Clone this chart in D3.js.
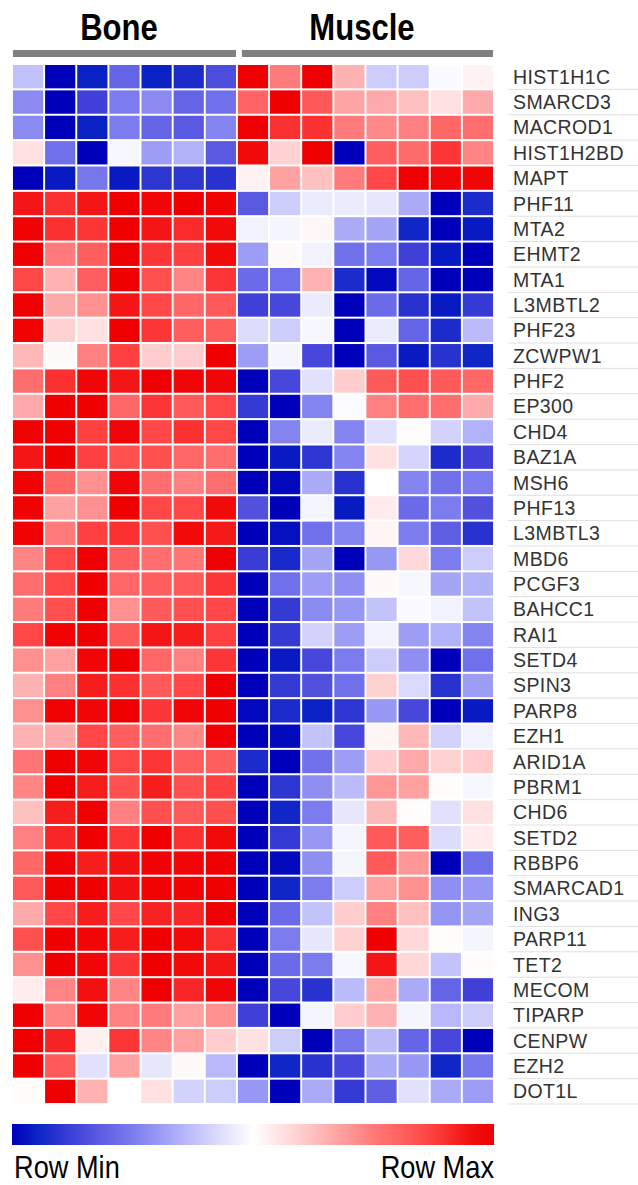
<!DOCTYPE html>
<html>
<head>
<meta charset="utf-8">
<script src="https://cdn.jsdelivr.net/npm/d3@7"></script>
<style>
  body { margin: 0; background: #fff; }
  svg { display: block; }
</style>
</head>
<body>
<svg id="chart" width="638" height="1185"></svg>
<script>
// genes (rows), top to bottom
const genes = ['HIST1H1C', 'SMARCD3', 'MACROD1', 'HIST1H2BD', 'MAPT', 'PHF11', 'MTA2', 'EHMT2',
  'MTA1', 'L3MBTL2', 'PHF23', 'ZCWPW1', 'PHF2', 'EP300', 'CHD4', 'BAZ1A', 'MSH6', 'PHF13',
  'L3MBTL3', 'MBD6', 'PCGF3', 'BAHCC1', 'RAI1', 'SETD4', 'SPIN3', 'PARP8', 'EZH1', 'ARID1A',
  'PBRM1', 'CHD6', 'SETD2', 'RBBP6', 'SMARCAD1', 'ING3', 'PARP11', 'TET2', 'MECOM', 'TIPARP',
  'CENPW', 'EZH2', 'DOT1L'];

const groups = ['Bone', 'Muscle'];
const boneSamples = ['B1', 'B2', 'B3', 'B4', 'B5', 'B6', 'B7'];
const muscleSamples = ['M1', 'M2', 'M3', 'M4', 'M5', 'M6', 'M7', 'M8'];
const legendLabels = ['Row Min', 'Row Max'];

// row-scaled values, -1 = row min, 1 = row max
const boneValues = [
  [-0.25, -1, -0.9, -0.6, -0.9, -0.85, -0.7],
  [-0.45, -1, -0.75, -0.5, -0.45, -0.6, -0.55],
  [-0.45, -1, -0.9, -0.5, -0.6, -0.65, -0.47],
  [0.12, -0.55, -1, -0.03, -0.38, -0.3, -0.65],
  [-1, -0.92, -0.52, -0.92, -0.8, -0.8, -0.82],
  [0.88, 0.8, 0.88, 0.95, 0.93, 0.95, 0.94],
  [0.94, 0.8, 0.78, 0.95, 0.88, 0.82, 0.92],
  [0.95, 0.5, 0.62, 0.95, 0.78, 0.75, 0.92],
  [0.72, 0.3, 0.62, 0.95, 0.68, 0.46, 0.78],
  [0.95, 0.33, 0.42, 0.88, 0.72, 0.58, 0.64],
  [0.94, 0.18, 0.12, 0.95, 0.78, 0.62, 0.62],
  [0.28, 0.02, 0.48, 0.75, 0.2, 0.2, 0.95],
  [0.55, 0.8, 0.93, 0.88, 0.95, 0.93, 0.93],
  [0.33, 0.95, 0.95, 0.58, 0.78, 0.64, 0.72],
  [0.94, 0.95, 0.75, 0.93, 0.72, 0.8, 0.72],
  [0.88, 0.95, 0.75, 0.68, 0.68, 0.58, 0.55],
  [0.94, 0.58, 0.42, 0.93, 0.55, 0.48, 0.55],
  [0.94, 0.36, 0.42, 0.95, 0.72, 0.72, 0.92],
  [0.94, 0.5, 0.75, 0.8, 0.68, 0.92, 0.87],
  [0.46, 0.72, 0.95, 0.62, 0.55, 0.52, 0.95],
  [0.55, 0.72, 0.95, 0.58, 0.62, 0.64, 0.78],
  [0.5, 0.68, 0.95, 0.42, 0.64, 0.68, 0.72],
  [0.72, 0.94, 0.95, 0.64, 0.88, 0.86, 0.75],
  [0.42, 0.36, 0.93, 0.95, 0.58, 0.48, 0.78],
  [0.3, 0.48, 0.86, 0.8, 0.64, 0.72, 0.95],
  [0.42, 0.94, 0.93, 0.95, 0.78, 0.93, 0.95],
  [0.3, 0.33, 0.72, 0.62, 0.55, 0.46, 0.95],
  [0.52, 0.95, 0.93, 0.72, 0.78, 0.62, 0.62],
  [0.46, 0.95, 0.86, 0.68, 0.86, 0.68, 0.75],
  [0.25, 0.86, 0.95, 0.48, 0.68, 0.64, 0.68],
  [0.48, 0.83, 0.95, 0.78, 0.95, 0.8, 0.92],
  [0.58, 0.94, 0.86, 0.9, 0.94, 0.93, 0.95],
  [0.64, 0.95, 0.95, 0.9, 0.94, 0.94, 0.95],
  [0.33, 0.72, 0.86, 0.72, 0.84, 0.83, 0.95],
  [0.68, 0.95, 0.93, 0.86, 0.95, 0.92, 0.8],
  [0.42, 0.95, 0.93, 0.78, 0.95, 0.92, 0.88],
  [0.07, 0.46, 0.9, 0.46, 0.95, 0.83, 0.93],
  [0.95, 0.46, 0.93, 0.48, 0.5, 0.36, 0.42],
  [0.95, 0.84, 0.06, 0.78, 0.46, 0.36, 0.2],
  [0.95, 0.64, -0.12, 0.36, -0.1, 0.02, -0.28],
  [0.01, 0.95, 0.3, 0, 0.12, -0.18, -0.2]
];

const muscleValues = [
  [0.95, 0.5, 0.95, 0.3, -0.2, -0.2, -0.02, 0.05],
  [0.6, 0.95, 0.65, 0.35, 0.33, 0.25, 0.12, 0.33],
  [0.95, 0.8, 0.8, 0.5, 0.45, 0.48, 0.58, 0.55],
  [0.92, 0.18, 0.95, -1, 0.62, 0.56, 0.78, 0.46],
  [0.05, 0.36, 0.25, 0.5, 0.72, 0.95, 0.93, 0.93],
  [-0.65, -0.2, -0.08, -0.08, -0.1, -0.33, -1, -0.85],
  [-0.05, -0.04, 0.03, -0.33, -0.35, -0.88, -1, -0.92],
  [-0.38, 0.02, -0.05, -0.55, -0.5, -0.75, -0.92, -1],
  [-0.57, -0.55, 0.3, -0.85, -0.97, -0.6, -1, -1],
  [-0.75, -0.72, -0.08, -1, -0.57, -0.82, -0.92, -0.78],
  [-0.14, -0.2, -0.03, -1, -0.08, -0.6, -0.85, -0.27],
  [-0.38, -0.04, -0.72, -1, -0.65, -0.92, -0.82, -0.88],
  [-1, -0.72, -0.12, 0.2, 0.64, 0.68, 0.64, 0.58],
  [-0.78, -1, -0.47, -0.01, 0.48, 0.55, 0.55, 0.33],
  [-1, -0.47, -0.08, -0.47, -0.12, 0.01, -0.18, -0.3],
  [-1, -0.92, -0.8, -0.47, 0.12, -0.17, -0.85, -0.75],
  [-1, -0.97, -0.33, -0.82, 0, -0.47, -0.55, -0.5],
  [-0.68, -1, -0.04, -0.92, 0.08, -0.57, -0.5, -0.68],
  [-1, -0.95, -0.55, -0.47, 0.04, -0.5, -0.62, -0.82],
  [-0.77, -0.86, -0.35, -1, -0.4, 0.15, -0.5, -0.2],
  [-1, -0.55, -0.38, -0.43, 0.02, -0.03, -0.35, -0.3],
  [-1, -0.78, -0.45, -0.4, -0.24, -0.02, -0.05, -0.24],
  [-1, -0.78, -0.18, -0.38, -0.05, -0.38, -0.3, -0.47],
  [-1, -0.92, -0.72, -0.5, -0.2, -0.43, -1, -0.55],
  [-1, -0.78, -0.68, -0.55, 0.18, -0.15, -0.82, -0.38],
  [-0.97, -0.85, -0.9, -0.8, -0.4, -0.72, -1, -0.92],
  [-1, -0.97, -0.24, -0.72, 0.04, 0.28, -0.18, -0.05],
  [-0.85, -1, -0.55, -0.38, 0.2, 0.33, 0.18, 0.2],
  [-1, -0.8, -0.43, -0.27, 0.4, 0.36, 0.01, -0.03],
  [-1, -0.88, -0.5, -0.1, 0.28, 0.01, -0.12, 0.12],
  [-1, -0.78, -0.4, -0.04, 0.64, 0.62, -0.14, 0.08],
  [-1, -0.97, -0.43, -0.04, 0.64, 0.4, -1, -0.55],
  [-1, -0.88, -0.5, -0.2, 0.36, 0.42, -0.43, -0.4],
  [-1, -0.57, -0.24, 0.2, 0.48, 0.25, -0.41, -0.35],
  [-1, -0.5, -0.1, 0.18, 0.95, 0.15, 0.01, -0.04],
  [-1, -0.57, -0.5, -0.03, 0.88, 0.16, -0.24, 0.01],
  [-1, -0.72, -0.82, -0.27, 0.33, -0.33, -0.6, -0.75],
  [-0.75, -1, -0.04, 0.2, 0.3, -0.04, -0.28, -0.2],
  [0.12, -0.2, -1, -0.52, -0.27, -0.6, -0.72, -1],
  [-1, -0.88, -0.82, -0.72, -0.33, -0.4, -0.88, -0.52],
  [-0.4, -1, -0.33, -0.78, -0.62, -0.12, -0.33, -0.38]
];

const svg = d3.select('#chart');
const samples = boneSamples.concat(muscleSamples);

const x = d3.scaleBand().domain(samples).range([12, 494]).paddingInner(0.06).paddingOuter(0.03);
const y = d3.scaleBand().domain(genes).range([64, 1104]).paddingInner(0.08).paddingOuter(0.04);

const color = d3.scaleLinear()
  .domain([-1, -0.9, -0.75, -0.5, -0.25, 0, 0.25, 0.5, 0.75, 0.95, 1])
  .range(['#0000bb', '#0a22c4', '#4040d8', '#7c7cef', '#c0c0fb', '#ffffff',
          '#ffc0c0', '#ff7a7a', '#ff4040', '#ee0000', '#ee0000'])
  .clamp(true);

const cells = [];
genes.forEach((g, i) => {
  const vals = boneValues[i].concat(muscleValues[i]);
  vals.forEach((v, j) => cells.push({ gene: g, sample: samples[j], value: v }));
});

svg.append('g')
  .selectAll('rect')
  .data(cells)
  .enter()
  .append('rect')
  .attr('x', d => x(d.sample))
  .attr('y', d => y(d.gene))
  .attr('width', x.bandwidth())
  .attr('height', y.bandwidth())
  .attr('fill', d => color(d.value));

// group header bars + titles (narrow bold look via horizontal squeeze)
const groupSpans = [
  { name: groups[0], x0: x(boneSamples[0]), x1: x(boneSamples[6]) + x.bandwidth() },
  { name: groups[1], x0: x(muscleSamples[0]) + 4, x1: x(muscleSamples[7]) + x.bandwidth() }
];
const head = svg.append('g');
head.selectAll('rect')
  .data(groupSpans)
  .enter()
  .append('rect')
  .attr('x', d => d.x0)
  .attr('y', 50)
  .attr('width', d => d.x1 - d.x0)
  .attr('height', 7)
  .attr('fill', '#808080');
head.selectAll('text')
  .data(groupSpans)
  .enter()
  .append('text')
  .attr('transform', d => `translate(${(d.x0 + d.x1) / 2 - 5.5},39.5) scale(0.84,1)`)
  .attr('text-anchor', 'middle')
  .attr('font-family', '"Liberation Sans", Arial, sans-serif')
  .attr('font-weight', 'bold')
  .attr('font-size', '37px')
  .attr('fill', '#000')
  .text(d => d.name);

// row labels with light separators
const lab = svg.append('g');
const half = y.step() * y.paddingInner() / 2;
lab.selectAll('line')
  .data(genes)
  .enter()
  .append('line')
  .attr('x1', 508)
  .attr('x2', 638)
  .attr('y1', d => y(d) + y.bandwidth() + half)
  .attr('y2', d => y(d) + y.bandwidth() + half)
  .attr('stroke', '#e0e0e0')
  .attr('stroke-width', 1);
lab.selectAll('text')
  .data(genes)
  .enter()
  .append('text')
  .attr('x', 513)
  .attr('y', d => y(d) + y.bandwidth() / 2)
  .attr('dy', '0.36em')
  .attr('font-family', '"Liberation Sans", Arial, sans-serif')
  .attr('font-size', '19.5px')
  .attr('letter-spacing', '0.4px')
  .attr('fill', '#333')
  .text(d => d);

// legend
const defs = svg.append('defs');
const grad = defs.append('linearGradient').attr('id', 'legGrad');
d3.range(0, 1.0001, 0.05).forEach(t => {
  grad.append('stop')
    .attr('offset', (t * 100) + '%')
    .attr('stop-color', color(-1 + 2 * t));
});
const lx = d3.scaleLinear().domain([-1, 1]).range([12, 494]);
svg.append('rect')
  .attr('x', lx(-1))
  .attr('y', 1124)
  .attr('width', lx(1) - lx(-1))
  .attr('height', 21)
  .attr('fill', 'url(#legGrad)');
svg.append('g')
  .selectAll('text')
  .data(legendLabels)
  .enter()
  .append('text')
  .attr('transform', (d, i) => `translate(${i === 0 ? lx(-1) + 2 : lx(1)},1178) scale(0.85,1)`)
  .attr('text-anchor', (d, i) => i === 0 ? 'start' : 'end')
  .attr('font-family', '"Liberation Sans", Arial, sans-serif')
  .attr('font-size', '32px')
  .attr('fill', '#000')
  .text(d => d);
</script>
</body>
</html>
